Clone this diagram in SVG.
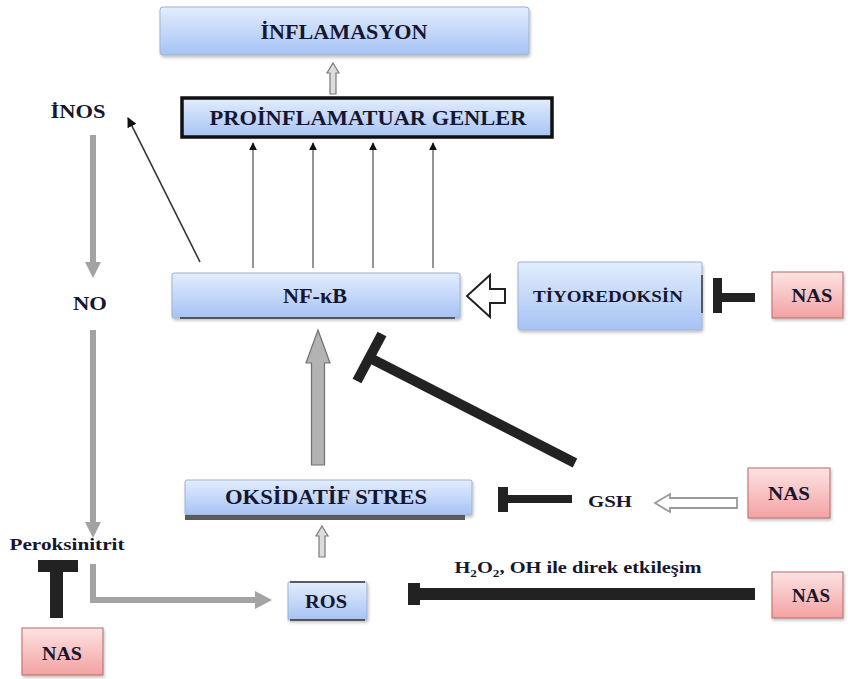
<svg xmlns="http://www.w3.org/2000/svg" width="848" height="679" viewBox="0 0 848 679">
<defs>
<linearGradient id="gBlue" x1="0" y1="0" x2="0" y2="1">
<stop offset="0" stop-color="#e3edfd"/>
<stop offset="1" stop-color="#a6c3f4"/>
</linearGradient>
<linearGradient id="gPink" x1="0" y1="0" x2="0" y2="1">
<stop offset="0" stop-color="#fde3e3"/>
<stop offset="1" stop-color="#f3a2a2"/>
</linearGradient>
<filter id="sh" x="-10%" y="-20%" width="120%" height="150%">
<feDropShadow dx="1" dy="2" stdDeviation="1.5" flood-color="#000" flood-opacity="0.25"/>
</filter>
<marker id="ah" viewBox="0 0 10 10" refX="9" refY="5" markerWidth="8" markerHeight="8" markerUnits="userSpaceOnUse" orient="auto">
<path d="M0,0 L10,5 L0,10 z" fill="#111"/>
</marker>
<marker id="ah2" viewBox="0 0 10 10" refX="9" refY="5" markerWidth="10" markerHeight="10" markerUnits="userSpaceOnUse" orient="auto">
<path d="M0,0 L10,5 L0,10 z" fill="#111"/>
</marker>
</defs>
<style>
.t{font-family:'Liberation Serif','DejaVu Serif',serif;font-weight:bold;fill:#16162e;text-anchor:middle}
.blue{fill:url(#gBlue);stroke:#9fb3cf;stroke-width:1;filter:url(#sh)}
.pink{fill:url(#gPink);stroke:#b76a6a;stroke-width:1;filter:url(#sh)}
.gray{stroke:#a3a3a3;stroke-width:6;fill:none}
.grayhead{fill:#a3a3a3}
.thin{stroke:#7a7a7a;stroke-width:1.6;fill:none}
.inh{fill:#222}
.hollow{fill:#dcdcdc;stroke:#7a7a7a;stroke-width:1.2}
</style>
<rect width="848" height="679" fill="#fff"/>

<g id="connectors">
<path class="hollow" d="M333,63 L339,73 L336,73 L336,94 L330,94 L330,73 L327,73 Z"/>
<line class="thin" x1="253" y1="268" x2="253" y2="143" marker-end="url(#ah)"/>
<line class="thin" x1="313" y1="268" x2="313" y2="143" marker-end="url(#ah)"/>
<line class="thin" x1="373" y1="268" x2="373" y2="143" marker-end="url(#ah)" stroke="#999"/>
<line class="thin" x1="433" y1="268" x2="433" y2="143" marker-end="url(#ah)" stroke="#999"/>
<line x1="200" y1="262" x2="128" y2="118" stroke="#333" stroke-width="1.6" marker-end="url(#ah2)"/>
<line class="gray" x1="93" y1="135" x2="93" y2="264"/>
<path class="grayhead" d="M85,262 L101,262 L93,278 Z"/>
<line class="gray" x1="93" y1="330" x2="93" y2="524"/>
<path class="grayhead" d="M85,522 L101,522 L93,538 Z"/>
<path class="gray" d="M93,564 V600 H258"/>
<path class="grayhead" d="M255,591 L272,600 L255,609 Z"/>
<rect class="inh" x="38" y="560" width="40" height="12"/>
<rect class="inh" x="50" y="570" width="13" height="48"/>
<path class="hollow" d="M322,526 L328,536 L325,536 L325,557 L319,557 L319,536 L316,536 Z"/>
<path d="M318,330 L330,363 L324.5,363 L324.5,465 L311.5,465 L311.5,363 L306,363 Z" fill="#b3b3b3" stroke="#707070" stroke-width="1.2"/>
<line x1="575" y1="463" x2="370" y2="358" stroke="#222" stroke-width="10"/>
<line x1="382" y1="334" x2="357" y2="381" stroke="#222" stroke-width="10"/>
<path d="M467,296 L490,275 L490,289 L505,289 L505,303 L490,303 L490,317 Z" fill="#fff" stroke="#222" stroke-width="2"/>
<rect class="inh" x="713" y="278" width="9" height="35"/>
<rect class="inh" x="720" y="293" width="35" height="9"/>
<rect class="inh" x="498" y="487" width="10" height="25"/>
<rect class="inh" x="506" y="495" width="66" height="8"/>
<path d="M655,503 L670,494 L670,498 L737,498 L737,508 L670,508 L670,512 Z" fill="#fff" stroke="#9a9a9a" stroke-width="1.8"/>
<rect class="inh" x="408" y="583" width="12" height="22"/>
<rect class="inh" x="418" y="588" width="337" height="12"/>
</g>

<g id="inflamasyon">
<rect class="blue" x="160" y="7" width="369" height="48" rx="3"/>
<text class="t" x="344" y="39" font-size="21" textLength="167" lengthAdjust="spacingAndGlyphs">İNFLAMASYON</text>
</g>

<g id="proinflamatuar">
<rect x="182" y="98" width="370" height="39" fill="url(#gBlue)" stroke="#111" stroke-width="3.5"/>
<text class="t" x="368" y="125" font-size="21" textLength="317" lengthAdjust="spacingAndGlyphs">PROİNFLAMATUAR GENLER</text>
</g>

<g id="nfkb">
<rect class="blue" x="172" y="273" width="288" height="45" rx="2"/>
<line x1="180" y1="318" x2="455" y2="318" stroke="#333" stroke-width="1.5"/>
<text class="t" x="315" y="303" font-size="20" textLength="64" lengthAdjust="spacingAndGlyphs">NF-κB</text>
</g>

<g id="tiyoredoksin">
<rect class="blue" x="518" y="262" width="184" height="68" rx="2"/>
<line x1="702" y1="275" x2="702" y2="313" stroke="#333" stroke-width="1.5"/>
<text class="t" x="608" y="302" font-size="17" textLength="150" lengthAdjust="spacingAndGlyphs">TİYOREDOKSİN</text>
</g>

<g id="nas1">
<rect class="pink" x="772" y="272" width="71" height="46"/>
<text class="t" x="812" y="302" font-size="18" textLength="41" lengthAdjust="spacingAndGlyphs">NAS</text>
</g>

<g id="inos">
<text class="t" x="78" y="118" font-size="18" textLength="55" lengthAdjust="spacingAndGlyphs">İNOS</text>
</g>

<g id="no">
<text class="t" x="90" y="310" font-size="19" textLength="34" lengthAdjust="spacingAndGlyphs">NO</text>
</g>

<g id="oksidatif">
<rect class="blue" x="185" y="480" width="287" height="35" rx="2"/>
<rect x="185" y="515" width="280" height="5" fill="#5a5a5a"/>
<text class="t" x="326" y="504" font-size="20" textLength="202" lengthAdjust="spacingAndGlyphs">OKSİDATİF STRES</text>
</g>

<g id="gsh">
<text class="t" x="610" y="507" font-size="17" textLength="44" lengthAdjust="spacingAndGlyphs">GSH</text>
</g>

<g id="nas2">
<rect class="pink" x="748" y="468" width="82" height="50"/>
<text class="t" x="789" y="500" font-size="18" textLength="42" lengthAdjust="spacingAndGlyphs">NAS</text>
</g>

<g id="peroksinitrit">
<text class="t" x="67" y="550" font-size="17" textLength="115" lengthAdjust="spacingAndGlyphs">Peroksinitrit</text>
</g>

<g id="nas4">
<rect class="pink" x="22" y="628" width="81" height="47"/>
<text class="t" x="62" y="660" font-size="18" textLength="40" lengthAdjust="spacingAndGlyphs">NAS</text>
</g>

<g id="ros">
<rect class="blue" x="288" y="582" width="79" height="38" rx="1"/>
<line x1="290" y1="582" x2="365" y2="582" stroke="#333" stroke-width="1.5"/>
<line x1="290" y1="620" x2="365" y2="620" stroke="#333" stroke-width="1.5"/>
<text class="t" x="326" y="608" font-size="18" textLength="42" lengthAdjust="spacingAndGlyphs">ROS</text>
</g>

<g id="label-h2o2">
<text class="t" x="578" y="573" font-size="17" textLength="247" lengthAdjust="spacingAndGlyphs">H<tspan font-size="11" dy="4">2</tspan><tspan dy="-4">O</tspan><tspan font-size="11" dy="4">2</tspan><tspan dy="-4">, OH ile direk etkileşim</tspan></text>
</g>

<g id="nas3">
<rect class="pink" x="772" y="572" width="71" height="46"/>
<text class="t" x="811" y="602" font-size="18" textLength="38" lengthAdjust="spacingAndGlyphs">NAS</text>
</g>
</svg>
